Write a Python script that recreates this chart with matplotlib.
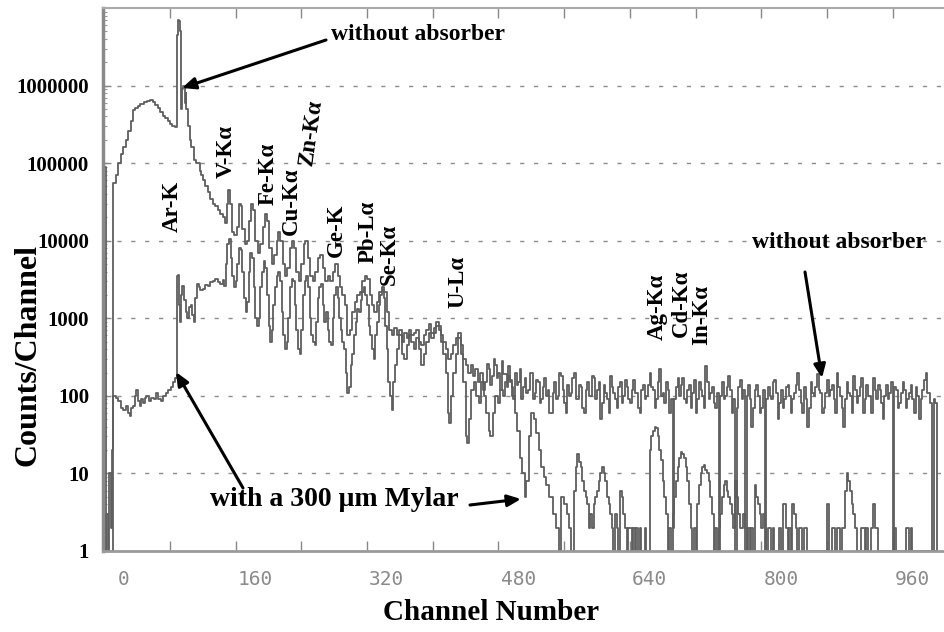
import numpy as np
import matplotlib
matplotlib.use("Agg")
import matplotlib.pyplot as plt
from matplotlib.ticker import FixedLocator, NullFormatter, LogLocator

# ---------------- data ----------------
# Spectrum without absorber: irregular part
free_ch = [-25, -22, -14, -13, -10, -7, -4, -1, 2, 5, 8, 11, 14, 17, 20, 24, 28, 32, 35, 38, 41, 44, 47, 50,
           53, 56, 59, 62, 64, 65, 66, 67, 68, 69, 70, 71, 72, 73, 74, 75, 76, 78, 80, 82, 85, 88, 90, 92,
           94, 96, 99, 102, 105, 108, 111, 114, 117, 120, 123, 125, 127, 129, 131, 134, 137, 140, 142, 144,
           147, 150, 152, 155, 157, 160, 163, 166, 169, 172, 174, 177, 180, 183, 186, 188, 190, 193, 196,
           199, 202, 205, 207, 210, 213, 216, 219, 221, 224, 227, 230, 233, 236, 239, 242, 245, 248, 251,
           254, 257, 260, 263, 266, 269, 272, 275, 278, 281, 284, 287, 290, 293, 296, 299, 302, 305, 308,
           311, 314, 317, 320, 323, 326, 329, 332, 335, 338, 341, 344, 347, 350, 353, 356, 359, 362, 365,
           368, 371, 374, 377, 380, 383, 386, 389, 392, 395, 398, 401, 404, 407, 410, 413, 416, 419, 422,
           425, 428, 431, 434, 437]
free_val = [90000, 1, 1, 56000, 70000, 100000, 130000, 160000, 200000, 260000, 350000, 480000, 520000,
            540000, 580000, 620000, 640000, 650000, 620000, 570000, 520000, 450000, 400000, 380000, 350000,
            320000, 300000, 290000, 320000, 4500000, 7000000, 6800000, 5000000, 1100000, 500000, 900000,
            1000000, 950000, 600000, 800000, 500000, 300000, 200000, 160000, 110000, 100000, 100000, 80000,
            70000, 60000, 50000, 42000, 35000, 30000, 28000, 25000, 22000, 20000, 17000, 30000, 45000,
            30000, 13000, 12000, 15000, 30000, 28000, 14000, 9000, 10000, 18000, 30000, 25000, 10000, 7000,
            9000, 15000, 22000, 18000, 8000, 5000, 6500, 10000, 13000, 10000, 5000, 3500, 4500, 8000, 10000,
            8000, 4000, 3000, 5000, 9000, 10000, 6000, 3500, 3000, 4000, 6000, 6500, 4500, 3000, 3500, 3000,
            4000, 5000, 3500, 2500, 2000, 1500, 600, 700, 1200, 1600, 2000, 2200, 3000, 3500, 3200, 2000,
            1500, 1200, 1600, 2200, 2500, 2200, 1200, 700, 600, 750, 600, 700, 500, 650, 550, 700, 600, 650,
            700, 500, 450, 600, 700, 850, 650, 750, 900, 800, 600, 500, 400, 300, 350, 450, 550, 650, 450,
            300, 250, 200, 250, 180, 220, 150, 200, 120]
# Spectrum without absorber: noisy flat tail (every 2nd channel, 440..988)
free_tail_ch = np.arange(440, 990, 2)
free_tail_val = [
    150, 260, 220, 140, 180, 300, 250, 170, 200, 120, 280, 190, 190, 130, 240, 160, 130, 90, 200, 140,
    150, 220, 90, 130, 170, 110, 120, 200, 200, 90, 110, 160, 150, 80, 90, 130, 170, 100, 120, 60,
    60, 110, 150, 90, 100, 200, 180, 120, 80, 60, 140, 100, 110, 170, 200, 90, 90, 140, 130, 70,
    60, 120, 150, 100, 100, 180, 170, 90, 120, 150, 50, 80, 140, 110, 90, 60, 180, 130, 110, 90,
    70, 130, 150, 80, 100, 160, 130, 90, 80, 120, 160, 110, 110, 70, 60, 120, 140, 90, 100, 140,
    200, 130, 120, 70, 90, 150, 220, 100, 110, 80, 150, 120, 60, 90, 2, 90, 130, 170, 100, 140,
    170, 90, 80, 120, 140, 70, 110, 160, 60, 90, 150, 120, 100, 70, 240, 150, 90, 110, 130, 80,
    70, 110, 1, 100, 150, 90, 100, 130, 180, 120, 60, 90, 1, 70, 130, 160, 90, 120, 1, 100,
    140, 90, 40, 70, 120, 140, 100, 60, 70, 120, 1, 90, 130, 100, 90, 150, 160, 110, 50, 80,
    120, 70, 90, 130, 140, 100, 60, 90, 110, 140, 200, 120, 80, 60, 130, 90, 40, 70, 150, 110,
    100, 130, 190, 120, 110, 60, 70, 110, 160, 100, 120, 140, 90, 60, 200, 130, 100, 70, 40, 90,
    150, 110, 100, 60, 180, 120, 80, 100, 130, 170, 60, 90, 140, 100, 100, 60, 170, 120, 90, 140,
    120, 80, 50, 100, 140, 90, 110, 150, 1, 130, 120, 70, 80, 110, 150, 120, 70, 90, 110, 140,
    90, 60, 130, 100, 50, 90, 120, 160, 200, 110, 110, 80, 1, 90, 80]

# Spectrum with a 300 um Mylar absorber: irregular part
mylar_ch = [-25, -22, -20, -18, -16, -15, -14, -13, -10, -7, -4, -1, 2, 5, 7, 9, 11, 13, 15, 17, 19, 21, 23,
            25, 27, 30, 33, 36, 39, 42, 45, 48, 51, 54, 57, 60, 62, 64, 65, 66, 67, 68, 70, 71, 73, 75, 77,
            79, 81, 83, 85, 87, 89, 91, 93, 96, 99, 102, 105, 108, 111, 114, 117, 120, 122, 124, 126, 128,
            130, 132, 134, 136, 138, 140, 142, 144, 146, 148, 150, 152, 154, 156, 158, 160, 162, 164, 166,
            168, 170, 172, 174, 176, 178, 180, 182, 184, 186, 188, 190, 192, 194, 196, 198, 200, 202, 204,
            206, 208, 210, 212, 214, 216, 218, 220, 222, 224, 226, 228, 230, 232, 234, 236, 238, 240, 242,
            244, 246, 248, 250, 252, 254, 256, 258, 260, 262, 264, 266, 268, 270, 272, 274, 276, 278, 280,
            282, 284, 286, 288, 290, 292, 294, 296, 298, 300, 302, 304, 306, 308, 310, 312, 314, 316, 318,
            320, 322, 324, 326, 328, 330, 332, 335, 338, 341, 344, 347, 350, 353, 356, 359, 362, 365, 368,
            371, 374, 377, 380, 383, 386, 389, 392, 394, 396, 398, 401, 404, 407, 410, 413, 416, 418, 420,
            423, 426, 429, 432, 435, 438, 441, 444, 446, 449, 452, 455, 458, 461, 464, 467, 470, 473, 476,
            479, 482, 485, 488, 490, 493, 496, 499, 502, 505, 508, 511, 514, 517]
mylar_val = [1, 3, 1, 10, 2, 20, 60, 100, 95, 85, 70, 65, 75, 60, 55, 70, 75, 100, 120, 85, 75, 90, 80, 95,
             100, 85, 95, 90, 110, 90, 85, 100, 110, 120, 130, 150, 170, 180, 3500, 3600, 1500, 900, 2000, 2600,
             1700, 1200, 1000, 1400, 1500, 1100, 900, 1800, 2800, 2500, 2300, 2400, 2700, 2600, 2900, 3000,
             3200, 2900, 2800, 3100, 2600, 5000, 9000, 10500, 6000, 3500, 2500, 3000, 5000, 8000, 7500, 4000,
             1800, 1200, 1600, 4000, 7000, 6000, 2500, 1000, 800, 1000, 2500, 4000, 5500, 4500, 2000, 800,
             500, 700, 1500, 2500, 3500, 4000, 3000, 1200, 600, 400, 500, 1000, 2500, 3200, 3000, 1500, 700,
             400, 350, 700, 2000, 3000, 3500, 2500, 1000, 600, 500, 450, 900, 1800, 2500, 2800, 1500, 900,
             1200, 700, 500, 450, 1000, 2000, 2500, 1800, 1000, 700, 500, 400, 200, 110, 130, 250, 350, 600,
             900, 1300, 1200, 1700, 2200, 2500, 2000, 1500, 800, 600, 400, 300, 600, 900, 1500, 2000, 2300,
             1800, 800, 400, 150, 100, 65, 150, 250, 400, 600, 350, 300, 450, 600, 500, 400, 550, 400, 250,
             350, 500, 650, 550, 650, 800, 700, 500, 350, 200, 60, 45, 100, 200, 350, 550, 350, 150, 30, 25,
             50, 120, 150, 100, 80, 150, 100, 60, 35, 30, 60, 100, 80, 120, 100, 150, 180, 150, 100, 60, 35,
             16, 10, 5, 8, 30, 60, 50, 33, 20, 12, 9, 7, 5]
# Spectrum with Mylar: low-count tail (every 2nd channel, 520..988)
mylar_tail_ch = np.arange(520, 990, 2)
mylar_tail_val = [
    5, 3, 3, 2, 2, 1, 5, 5, 4, 4, 3, 2, 1, 1, 6, 12, 18, 14, 12, 8,
    6, 5, 4, 2, 3, 2, 4, 5, 6, 8, 10, 12, 10, 8, 5, 4, 3, 2, 1, 3,
    2, 1, 6, 5, 3, 2, 1, 2, 2, 1, 2, 1, 2, 1, 2, 1, 1, 2, 1, 1,
    20, 30, 35, 40, 38, 30, 20, 15, 8, 5, 3, 1, 2, 1, 3, 5, 8, 12, 16, 19,
    18, 16, 12, 8, 4, 2, 1, 2, 1, 4, 7, 10, 12, 13, 11, 10, 8, 5, 3, 1,
    2, 1, 2, 3, 5, 7, 8, 6, 5, 4, 3, 2, 8, 5, 3, 2, 2, 3, 2, 1,
    2, 1, 2, 1, 7, 5, 4, 3, 2, 3, 2, 1, 2, 2, 1, 2, 1, 1, 1, 2,
    1, 4, 4, 2, 1, 2, 1, 4, 3, 2, 1, 2, 2, 1, 2, 2, 1, 1, 1, 1,
    1, 1, 1, 1, 1, 1, 1, 1, 4, 1, 1, 2, 2, 1, 2, 2, 1, 2, 2, 6,
    10, 8, 6, 4, 3, 2, 1, 1, 1, 2, 2, 1, 2, 1, 1, 2, 4, 2, 2, 1,
    1, 1, 1, 1, 1, 1, 1, 1, 1, 2, 1, 1, 1, 1, 1, 1, 2, 2, 1, 2,
    1, 1, 1, 1, 1, 1, 1, 1, 1, 1, 1, 1, 1, 1, 1]

x_tick_labels = ["0", "160", "320", "480", "640", "800", "960"]
y_tick_labels = ["1", "10", "100", "1000", "10000", "100000", "1000000"]

peak_labels = ["Ar-K", "V-Kα", "Fe-Kα", "Cu-Kα", "Zn-Kα", "Ge-K", "Pb-Lα", "Se-Kα",
               "U-Lα", "Ag-Kα", "Cd-Kα", "In-Kα"]

# ---------------- figure ----------------
W, H = 944, 632
fig = plt.figure(figsize=(W / 100, H / 100), dpi=100)
L, R, T, B = 103, 944, 8, 551
ax = fig.add_axes([L / W, 1 - B / H, (R - L) / W, (B - T) / H])

PX_PER_CH = 131.4 / 160.0
X0 = 124.0


def fp(x, y):
    """figure pixel -> figure fraction"""
    return (x / W, 1 - y / H)


serif = ["Liberation Serif", "DejaVu Serif"]
line_col = "#5e5e5e"

free_x = list(free_ch) + list(free_tail_ch) + [990]
free_y = list(free_val) + list(free_tail_val) + [1]
mylar_x = list(mylar_ch) + list(mylar_tail_ch) + [990]
mylar_y = list(mylar_val) + list(mylar_tail_val) + [1]
ax.plot(free_x, free_y, drawstyle="steps-post", color=line_col, lw=1.3)
ax.plot(mylar_x, mylar_y, drawstyle="steps-post", color=line_col, lw=1.3)

ax.set_yscale("log")
ax.set_xlim((L - X0) / PX_PER_CH, (R - X0) / PX_PER_CH)
ax.set_ylim(1, 1e7)

# grid
for k in range(1, 7):
    ax.axhline(10 ** k, color="#8c8c8c", lw=1.0, ls=(0, (3, 7)), zorder=0)

# y ticks
ax.yaxis.set_major_locator(FixedLocator([10 ** k for k in range(7)]))
ax.set_yticklabels(y_tick_labels, fontfamily=serif, fontweight="bold", fontsize=15)
ax.yaxis.set_minor_locator(LogLocator(base=10, subs=np.arange(2, 10), numticks=20))
ax.yaxis.set_minor_formatter(NullFormatter())
ax.tick_params(axis="y", which="major", direction="in", length=6, width=1, color="#888888", pad=10)
ax.tick_params(axis="y", which="minor", direction="in", length=3, width=0.8, color="#999999")

# x ticks: labels at 0,160,...; tick marks offset as in the reference
ax.set_xticks([0, 160, 320, 480, 640, 800, 960])
ax.set_xticklabels(x_tick_labels, fontfamily="DejaVu Sans Mono", fontsize=14, color="#8a8a8a")
ax.tick_params(axis="x", which="major", length=0, pad=14)
ax.set_xticks([-24 + 80 * k for k in range(1, 13)], minor=True)
ax.tick_params(axis="x", which="minor", direction="in", length=7, width=1, color="#888888",
               top=True, bottom=True)

ax.spines["right"].set_visible(False)
ax.spines["left"].set_color("#8a8a8a")
ax.spines["left"].set_linewidth(2.5)
ax.spines["bottom"].set_color("#9a9a9a")
ax.spines["bottom"].set_linewidth(2)
ax.spines["top"].set_color("#aaaaaa")
ax.spines["top"].set_linewidth(1.5)

# axis titles
fig.text(*fp(491, 613), "Channel Number", ha="center", va="center", fontfamily=serif,
         fontweight="bold", fontsize=21)
fig.text(*fp(28, 355), "Counts/Channel", ha="center", va="center", rotation=90,
         fontfamily=serif, fontweight="bold", fontsize=23)

# peak labels (centre x, bottom y in pixels)
peak_pos = [(172, 232), (226, 178), (268, 205), (291, 235), (311, 167), (336, 257), (368, 263),
            (389, 285), (458, 308), (657, 340), (681, 337), (702, 345)]
for lab, (px, py) in zip(peak_labels, peak_pos):
    rot = 82 if lab == "Zn-Kα" else 90
    fig.text(*fp(px, py), lab, rotation=rot, ha="center", va="bottom", fontfamily=serif,
             fontweight="bold", fontsize=16.5)

# annotations
arrow = dict(arrowstyle="-|>,head_length=0.8,head_width=0.35", color="black", lw=2.2,
             shrinkA=0, shrinkB=0)
fig.text(*fp(418, 35), "without absorber", ha="center", va="center", fontfamily=serif,
         fontweight="bold", fontsize=17)
ax.annotate("", xy=fp(182, 88), xytext=fp(326, 40), xycoords="figure fraction",
            textcoords="figure fraction", arrowprops=arrow)
fig.text(*fp(839, 242), "without absorber", ha="center", va="center", fontfamily=serif,
         fontweight="bold", fontsize=17)
ax.annotate("", xy=fp(822, 378), xytext=fp(805, 272), xycoords="figure fraction",
            textcoords="figure fraction", arrowprops=arrow)
fig.text(*fp(334, 500), "with a 300 μm Mylar", ha="center", va="center", fontfamily=serif,
         fontweight="bold", fontsize=20)
ax.annotate("", xy=fp(176, 372), xytext=fp(243, 488), xycoords="figure fraction",
            textcoords="figure fraction", arrowprops=arrow)
ax.annotate("", xy=fp(521, 499), xytext=fp(470, 505), xycoords="figure fraction",
            textcoords="figure fraction", arrowprops=arrow)

fig.savefig("out.png", dpi=100)
